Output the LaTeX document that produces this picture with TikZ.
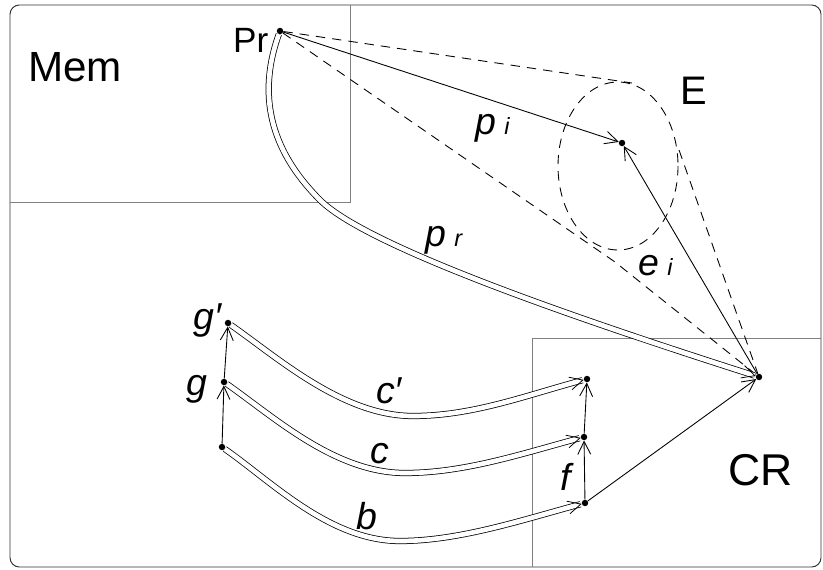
\documentclass[tikz,border=0pt]{standalone}
\usepackage{fontspec}
\setmainfont{Liberation Sans}
\usetikzlibrary{arrows.meta}

\begin{document}
\begin{tikzpicture}[x=0.03cm,y=-0.03cm,>={Straight Barb[length=11pt,width=11pt]}]
\tikzstyle{pt}=[circle,fill,inner sep=0pt,minimum size=5.5pt]
\tikzstyle{title}=[inner sep=0pt,anchor=base west]
\tikzstyle{lbl}=[inner sep=0pt,anchor=base west,font=\fontsize{32}{36}\selectfont\itshape]
\tikzstyle{box}=[draw=black!50,line width=0.6pt]
\tikzstyle{vec}=[line width=0.75pt,->]
\tikzstyle{dbl}=[double,double distance=4pt,line width=0.65pt,->]
\tikzstyle{cone}=[line width=0.75pt,dash pattern=on 8pt off 6pt]
\newcommand{\sub}[1]{\hspace{7pt}{\fontsize{20}{22}\selectfont\itshape #1}}

\useasboundingbox (0,0) rectangle (823,570);

% frame and the two regions
\draw[black!80,line width=0.8pt,rounded corners=8pt] (10,5) rectangle (821,567);
\draw[box] (350,5) -- (350,202) -- (10,202);
\draw[box] (532,567) -- (532,338) -- (821,338);

\node[title,font=\fontsize{36}{40}\selectfont] (mem) at (28,82) {Mem};
\node[title,font=\fontsize{38}{42}\selectfont] (crl) at (728,485) {CR};
\node[title,font=\fontsize{34}{38}\selectfont] (el) at (680,105) {E};
\node[title,font=\fontsize{30}{34}\selectfont] (prl) at (233,53) {Pr};

% points
\node[pt] (Pr) at (280,31) {};
\node[pt] (E) at (622,143) {};
\node[pt] (CR) at (759,377) {};
\node[pt] (gp) at (228,323) {};
\node[pt] (g) at (224,382) {};
\node[pt] (b0) at (222,447) {};
\node[pt] (cp1) at (587,379) {};
\node[pt] (c1) at (584,437) {};
\node[pt] (b1) at (585,503) {};

% cone round E
\coordinate (Etop) at (632,83);
\coordinate (Eright) at (679,150);
\coordinate (Elow) at (615,262);
\draw[cone] (618,166) ellipse [x radius=60,y radius=84];
\draw[cone] (Pr) -- (Etop);
\draw[cone] (Pr) -- (Elow) -- (CR);
\draw[cone] (Eright) -- (CR);

\draw[vec] (Pr) -- (E);
\draw[vec] (CR) -- (E);
\draw[vec] (b1) -- (CR);
\draw[vec] (b1) -- (c1);
\draw[vec] (c1) -- (cp1);
\draw[vec] (b0) -- (g);
\draw[vec] (g) -- (gp);

% double paths
\coordinate (prm) at (320,200);
\coordinate (cpm) at (413,416);
\coordinate (cm) at (405,473);
\coordinate (bm) at (400,541);
\draw[dbl] (Pr) .. controls +(-25,70) and +(-45,-45) .. (prm)
  .. controls +(50,50) and +(-150,-48) .. (CR);
\draw[dbl] (gp) .. controls +(50,35) and +(-70,0) .. (cpm)
  .. controls +(60,0) and +(-60,16) .. (cp1);
\draw[dbl] (g) .. controls +(50,35) and +(-70,0) .. (cm)
  .. controls +(60,0) and +(-60,16) .. (c1);
\draw[dbl] (b0) .. controls +(50,35) and +(-70,0) .. (bm)
  .. controls +(60,0) and +(-60,16) .. (b1);

% labels
\node[lbl] (pil) at (475,135) {p\sub{i}};
\node[lbl] (prl2) at (425,247) {p\sub{r}};
\node[lbl] (eil) at (638,275) {e\sub{i}};
\node[lbl] (cpl) at (376,403) {c′};
\node[lbl] (cl) at (370,463) {c};
\node[lbl] (bl) at (356,529) {b};
\node[lbl] (gpl) at (193,329) {g′};
\node[lbl] (gl) at (186,395) {g};
\node[lbl] (fl) at (560,490) {f};
\end{tikzpicture}
\end{document}
